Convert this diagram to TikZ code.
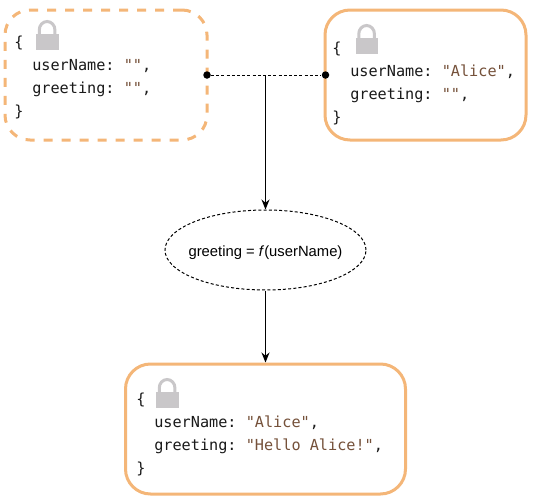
\documentclass[tikz,border=0pt]{standalone}
\usepackage{fontspec}
\setmainfont{Liberation Sans}
\setmonofont{DejaVu Sans Mono}
\usetikzlibrary{arrows.meta,shapes.geometric}
\definecolor{boxorange}{HTML}{F4B678}
\definecolor{strbrown}{HTML}{75513A}
\definecolor{lockgray}{HTML}{C9C7C9}
\definecolor{codeblack}{HTML}{1A1A1A}
\newdimen\px \px=.75pt
\tikzset{
  x=.75pt,y=-.75pt,
  statebox/.style={draw=boxorange,line width=3\px,rounded corners=25\px,minimum height=130\px,inner sep=0pt,fill=white},
  pendingbox/.style={statebox,dash pattern=on 9\px off 9\px},
  codeline/.style={anchor=base west,inner sep=0pt,font=\ttfamily\fontsize{11.4pt}{11.4pt}\selectfont,text=codeblack},
  dot/.style={circle,fill=black,inner sep=0pt,minimum size=7.5\px},
  thinline/.style={line width=1\px,draw=black},
  dotline/.style={thinline,dash pattern=on 3\px off 2.2\px},
  arrowline/.style={thinline,-{Stealth[length=7.5pt,width=6pt]}},
  func/.style={ellipse,draw=black,line width=1\px,dash pattern=on 3\px off 2.2\px,minimum width=201\px,minimum height=80\px,inner sep=0pt,font=\fontsize{11.1pt}{11pt}\selectfont,text=black},
  lockbody/.style={fill=lockgray,draw=none},
  lockshackle/.style={draw=lockgray,line width=3\px}
}
\newcommand{\lockat}[2]{%
  \fill[lockbody] (#1,#2+13.5) rectangle (#1+22.5,#2+30);
  \draw[lockshackle] (#1+3.25,#2+14) -- (#1+3.25,#2+10) arc[start angle=180,end angle=0,x radius=7.85\px,y radius=8.5\px] -- (#1+18.95,#2+14);
}
\newcommand{\str}[1]{\textcolor{strbrown}{#1}}
\begin{document}
\begin{tikzpicture}
\useasboundingbox (0,0) rectangle (533,500);
% boxes
\node[pendingbox,minimum width=202\px] (boxa) at (106,75) {};
\node[statebox,minimum width=201\px] (boxb) at (425.5,75) {};
\node[statebox,minimum width=280\px] (boxc) at (265.5,429) {};
% locks
\lockat{36}{20}
\lockat{355.5}{24}
\lockat{156}{378}
% code text
\node[codeline] (a1) at (14,47) {\{};
\node[codeline] (a2) at (32,70) {userName: \str{""},};
\node[codeline] (a3) at (32,93) {greeting: \str{""},};
\node[codeline] (a4) at (14,116) {\}};
\node[codeline] (b1) at (332,53) {\{};
\node[codeline] (b2) at (350,76) {userName: \str{"Alice"},};
\node[codeline] (b3) at (350,99) {greeting: \str{""},};
\node[codeline] (b4) at (332,122) {\}};
\node[codeline] (c1) at (136,404) {\{};
\node[codeline] (c2) at (154,427) {userName: \str{"Alice"},};
\node[codeline] (c3) at (154,450) {greeting: \str{"Hello Alice!"},};
\node[codeline] (c4) at (136,473) {\}};
% function
\node[func] (fn) at (265.5,250) {\raisebox{-4.5pt}[0pt][0pt]{\makebox[0pt]{greeting = \textit{f}(userName)}}};
% connectors
\node[dot] (da) at (207,75) {};
\node[dot] (db) at (325.5,75) {};
\coordinate (join) at (265.5,75);
\draw[dotline] (da) -- (db);
\draw[arrowline] (join) -- (fn.north);
\draw[arrowline] (fn.south) -- (boxc.north);
\end{tikzpicture}
\end{document}
